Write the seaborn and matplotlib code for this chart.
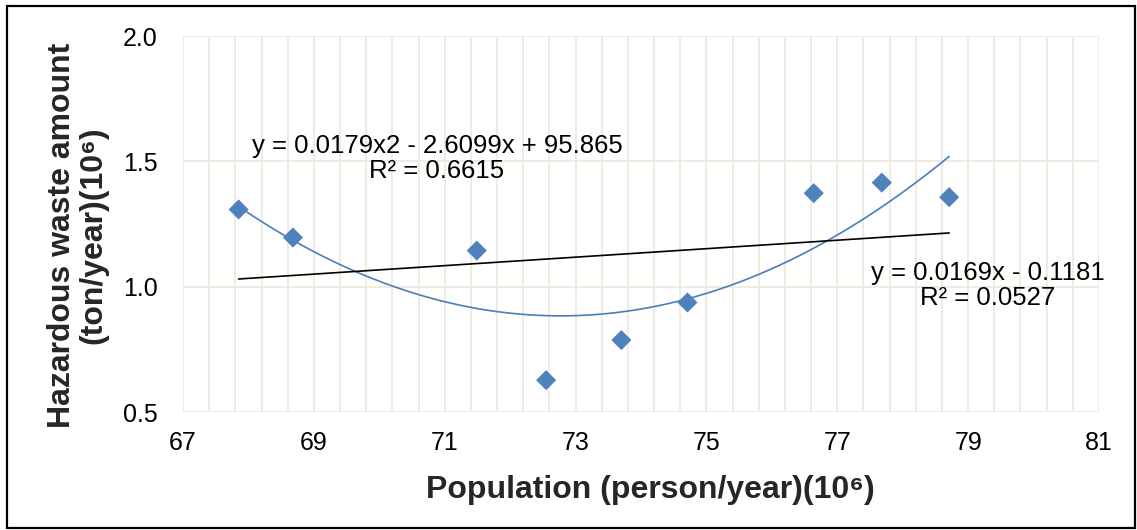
import numpy as np
import pandas as pd
import matplotlib
matplotlib.use("Agg")
import matplotlib.pyplot as plt
import seaborn as sns
from matplotlib.patches import Rectangle

# ---- data ----
population = [67.85, 68.68, 71.49, 72.55, 73.70, 74.71, 76.64, 77.68, 78.71]
hazardous_waste = [1.308, 1.196, 1.144, 0.627, 0.787, 0.937, 1.373, 1.415, 1.357]
x_ticks = [67, 69, 71, 73, 75, 77, 79, 81]
y_ticks = [0.5, 1.0, 1.5, 2.0]
eq_poly = "y = 0.0179x2 - 2.6099x + 95.865"
r2_poly = "R² = 0.6615"
eq_lin = "y = 0.0169x - 0.1181"
r2_lin = "R² = 0.0527"
x_label = "Population (person/year)(10⁶)"
y_label = "Hazardous waste amount\n(ton/year)(10⁶)"

df = pd.DataFrame({"pop": population, "waste": hazardous_waste})

sns.set_theme(style="white")
plt.rcParams["font.family"] = ["Liberation Sans", "DejaVu Sans"]

W, H = 1137, 530
fig = plt.figure(figsize=(W / 100, H / 100), dpi=100)
ax = fig.add_axes([183 / W, 1 - 412 / H, (1099 - 183) / W, (412 - 36) / H])

grid_col = "#EEEBDF"
ax.set_xlim(67, 81)
ax.set_ylim(0.5, 2.0)
ax.set_xticks(x_ticks)
ax.set_xticks(np.arange(67, 81.001, 0.4), minor=True)
ax.set_yticks(y_ticks)
ax.set_yticklabels([f"{v:.1f}" for v in y_ticks])
ax.grid(True, which="both", axis="x", color=grid_col, lw=1.4, zorder=0)
ax.grid(True, which="major", axis="y", color=grid_col, lw=1.4, zorder=0)
ax.set_axisbelow(True)
for s in ax.spines.values():
    s.set_visible(False)
ax.tick_params(axis="both", which="both", length=0, labelsize=18, colors="#000000")
ax.tick_params(axis="x", pad=14)
ax.tick_params(axis="y", pad=18)

# trend lines
sns.regplot(data=df, x="pop", y="waste", order=2, ci=None, scatter=False,
            line_kws={"color": "#4A7EBB", "lw": 1.2, "zorder": 2}, ax=ax)
sns.regplot(data=df, x="pop", y="waste", order=1, ci=None, scatter=False,
            line_kws={"color": "#000000", "lw": 1.2, "zorder": 2}, ax=ax)
sns.scatterplot(data=df, x="pop", y="waste", marker="D", s=105, color="#4F81BD",
                edgecolor="none", linewidth=0, zorder=3, ax=ax)
ax.set_xlabel("")
ax.set_ylabel("")

# equation labels
tk = dict(fontsize=18.5, color="#000000", ha="center", va="baseline",
          transform=fig.transFigure)
fig.text(437 / W, 1 - 153 / H, eq_poly, **tk)
fig.text(437 / W, 1 - 178 / H, r2_poly, **tk)
fig.text(988 / W, 1 - 280 / H, eq_lin, **tk)
fig.text(988 / W, 1 - 305 / H, r2_lin, **tk)

# axis titles
fig.text(650 / W, 1 - 490 / H, x_label, fontsize=23, fontweight="bold",
         ha="center", va="center")
fig.text(78 / W, 1 - 235 / H, y_label, fontsize=23, fontweight="bold",
         ha="center", va="center", rotation=90, multialignment="center",
         linespacing=1.05)

# outer frame
fig.patches.append(Rectangle((7 / W, 2 / H), (1135 - 7) / W, (528 - 6) / H,
                             transform=fig.transFigure, fill=False,
                             edgecolor="#000000", lw=1.6))

fig.savefig("out.png", dpi=100)
